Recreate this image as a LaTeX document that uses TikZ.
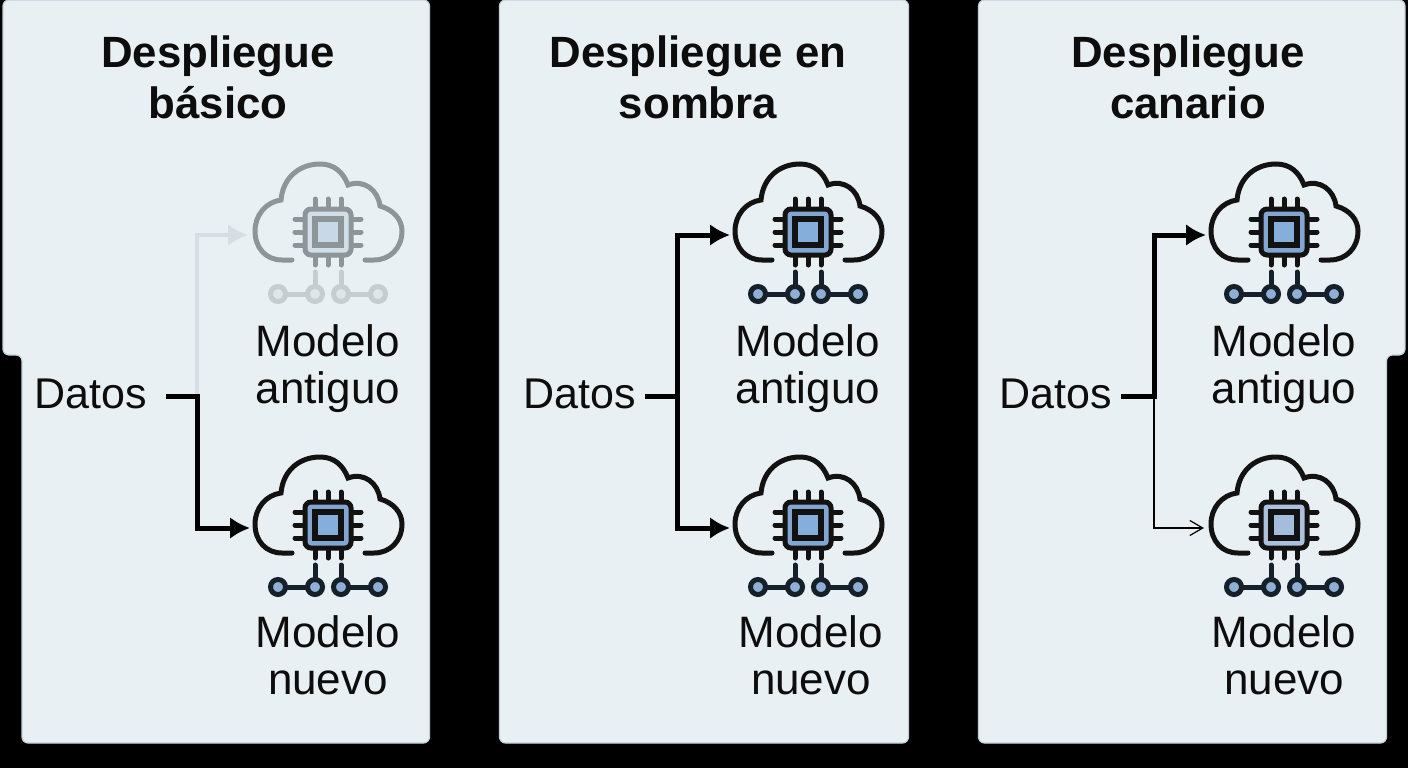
\documentclass[tikz,border=0pt]{standalone}
\usepackage{fontspec}
\setmainfont{Liberation Sans}
\usetikzlibrary{arrows.meta}
\colorlet{icoline}{black!93}
\definecolor{icochip}{HTML}{83A6D0}
\definecolor{icocore}{HTML}{86AEDA}
\definecolor{icodotline}{HTML}{16202A}
\definecolor{icodot}{HTML}{8FB0D4}
\definecolor{panelfill}{HTML}{E8F0F4}
\definecolor{paneledge}{HTML}{C3D1DA}
\definecolor{ghostline}{HTML}{D5DEE3}
\tikzset{
  panel/.style={draw=paneledge,line width=1.2pt,fill=panelfill,rounded corners=6pt},
  heading/.style={font=\bfseries\fontsize{43.8}{51}\selectfont,align=center,text=black!95},
  label/.style={font=\fontsize{44}{47}\selectfont,align=center,text=black!95},
  datos/.style={font=\fontsize{43}{47}\selectfont,text=black!95,inner xsep=19pt,inner ysep=0pt},
  feed/.style={line width=5pt,black},
  link/.style={feed,-{Latex[length=20pt,width=22pt]}},
  ghost/.style={line width=4pt,color=ghostline,-{Latex[length=20pt,width=22pt]}},
  thin link/.style={line width=1.2pt,black,-{Straight Barb[length=13pt,width=15pt]}},
  pics/cloudchip/.style={code={
    \draw[icoline,line width=5pt,line cap=round]
      (-36,28) -- (-46,28) .. controls (-62,28) and (-73,16) .. (-73,-1)
      .. controls (-73,-17) and (-62,-30) .. (-47,-32)
      .. controls (-45,-55) and (-28,-68) .. (-8,-68)
      .. controls (6,-68) and (15,-60) .. (20,-47)
      .. controls (36,-53) and (50,-42) .. (52,-26)
      .. controls (66,-22) and (74,-12) .. (74,-1)
      .. controls (74,16) and (62,28) .. (46,28) -- (37,28);
    \foreach \k in {-13,0,13} {
      \draw[icoline,line width=5pt,line cap=round] (\k,-33) -- (\k,33);
      \draw[icoline,line width=5pt,line cap=round] (-33,\k) -- (33,\k);
    }
    \draw[icoline,line width=5pt,fill=icochip,rounded corners=6pt] (-23,-23) rectangle (23,23);
    \draw[icoline,line width=6pt,fill=icocore] (-13,-13) rectangle (13,13);
    \draw[icodotline,line width=5pt,line cap=round] (-13,40) -- (-13,60);
    \draw[icodotline,line width=5pt,line cap=round] (13,40) -- (13,60);
    \draw[icodotline,line width=5pt] (-50,62) -- (-13,62);
    \draw[icodotline,line width=5pt] (13,62) -- (50,62);
    \foreach \k in {-50,-13,13,50}
      \draw[icodotline,line width=5pt,fill=icodot] (\k,62) circle (7.5pt);
  }}
}
\begin{document}
\begin{tikzpicture}[x=1pt,y=-1pt]
\useasboundingbox (0,0) rectangle (1408,768);
\fill[black] (0,0) rectangle (1408,768);

% panels
\draw[panel] (3,0) -- (3,355) -- (22,355) -- (22,743) -- (429.5,743) -- (429.5,0) -- cycle;
\draw[panel] (499.5,0) -- (499.5,743) -- (908.5,743) -- (908.5,0) -- cycle;
\draw[panel] (978.5,0) -- (978.5,743) -- (1386.5,743) -- (1386.5,355) -- (1405,355) -- (1405,0) -- cycle;

\node (head1)[heading] at (218,77) {Despliegue\\básico};
\node (head2)[heading] at (698,77) {Despliegue en\\sombra};
\node (head3)[heading] at (1188,77) {Despliegue\\canario};

\node (datos1)[datos] at (91,394) {Datos};
\node (datos2)[datos,inner xsep=9pt] at (580,394) {Datos};
\node (datos3)[datos,inner xsep=9pt] at (1056,394) {Datos};

\node (old1)[label] at (328,368.5) {Modelo\\antiguo};
\node (new1)[label] at (328,655.5) {Modelo\\nuevo};
\node (old2)[label] at (808,368.5) {Modelo\\antiguo};
\node (new2)[label] at (811,655.5) {Modelo\\nuevo};
\node (old3)[label] at (1284,368.5) {Modelo\\antiguo};
\node (new3)[label] at (1284,655.5) {Modelo\\nuevo};

% icons
\begin{scope}
\definecolor{icoline}{HTML}{8E9598}
\definecolor{icochip}{HTML}{D3DFE8}
\definecolor{icocore}{HTML}{C8D8E6}
\definecolor{icodotline}{HTML}{C6CDD0}
\definecolor{icodot}{HTML}{DFE6EA}
\pic at (328,232) {cloudchip};
\end{scope}
\pic at (328,525) {cloudchip};
\pic at (808,232) {cloudchip};
\pic at (808,525) {cloudchip};
\pic at (1284,232) {cloudchip};
\begin{scope}
\definecolor{icochip}{HTML}{AEC1DC}
\definecolor{icocore}{HTML}{A5BDDC}
\pic at (1284,525) {cloudchip};
\end{scope}

% junctions and arrow ends
\coordinate (fork1) at (197,396);
\coordinate (fork2) at (677,396);
\coordinate (fork3) at (1154,396);
\coordinate (in1a) at (248,235);
\coordinate (in1b) at (250,528);
\coordinate (in2a) at (730,235);
\coordinate (in2b) at (730,528);
\coordinate (in3a) at (1206,235);
\coordinate (in3b) at (1204,528);

\draw[ghost] (fork1) |- (in1a);
\draw[link] (datos1.east |- fork1) -- (fork1) |- (in1b);
\draw[link] (datos2.east |- fork2) -- (fork2) |- (in2a);
\draw[link] (fork2) |- (in2b);
\draw[thin link] (fork3) |- (in3b);
\draw[link] (datos3.east |- fork3) -- (fork3) |- (in3a);
\end{tikzpicture}
\end{document}
